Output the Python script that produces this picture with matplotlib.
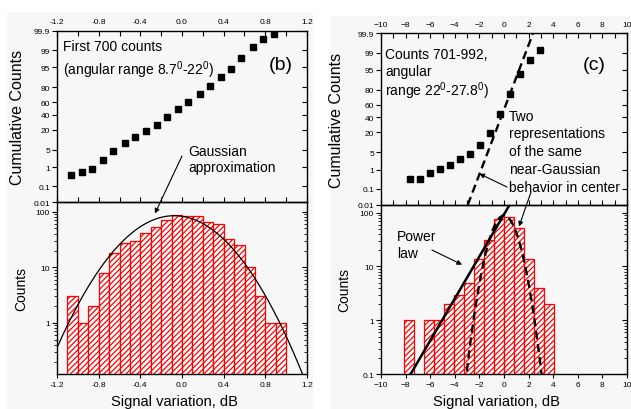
# plot.py - cumulative counts (probability scale) + log histograms, panels (b) and (c)

import numpy as np
import matplotlib
matplotlib.use("Agg")
import matplotlib.pyplot as plt
from matplotlib.patches import Rectangle
from matplotlib.ticker import MultipleLocator, LogLocator, NullFormatter, NullLocator
from statistics import NormalDist

plt.rcParams['font.family'] = ['Liberation Sans', 'DejaVu Sans']
plt.rcParams['mathtext.fontset'] = 'custom'
plt.rcParams['mathtext.rm'] = 'Liberation Sans'
plt.rcParams['mathtext.it'] = 'Liberation Sans:italic'
plt.rcParams['hatch.linewidth'] = 0.9

# ---- panel (b): first 700 counts ----
b_cum_x   = [-1.07, -0.96, -0.86, -0.76, -0.66, -0.55, -0.45, -0.35, -0.24, -0.14,
             -0.04, 0.06, 0.17, 0.27, 0.37, 0.47, 0.57, 0.68, 0.78, 0.88]
b_cum_pct = [0.43, 0.56, 0.84, 1.97, 4.57, 8.5, 12.6, 18.6, 26.1, 36.4,
             48.8, 59.9, 71.9, 81.2, 89.8, 94.3, 97.9, 99.29, 99.73, 99.86]
b_edges   = [-1.1, -1.0, -0.9, -0.8, -0.7, -0.6, -0.5, -0.4, -0.3, -0.2, -0.1,
             0.0, 0.1, 0.2, 0.3, 0.4, 0.5, 0.6, 0.7, 0.8, 0.9, 1.0]
b_counts  = [3, 1, 2, 8, 18, 27, 30, 42, 54, 71, 87, 83, 83, 66, 60, 33, 25, 10, 3, 1, 1]
# gaussian approximation (peak, centre, width in dB)
b_gauss_peak, b_gauss_mu, b_gauss_sigma = 85.0, -0.075, 0.34

# ---- panel (c): counts 701-992 ----
c_cum_x   = [-7.65, -6.83, -6.04, -5.22, -4.41, -3.59, -2.78, -1.96, -1.14, -0.33,
             0.49, 1.31, 2.12, 2.94]
c_cum_pct = [0.35, 0.35, 0.69, 1.07, 1.66, 2.76, 4.53, 9.1, 19.6, 45.9,
             74.7, 92.8, 97.8, 99.24]
c_edges   = [-8.15, -7.335, -6.52, -5.705, -4.89, -4.075, -3.26, -2.445, -1.63,
             -0.815, 0.0, 0.815, 1.63, 2.445, 3.26, 4.075]
c_counts  = [1, 0, 1, 1, 2, 3, 5, 14, 31, 76, 84, 51, 14, 4, 2]
c_line_x   = [-2.94, 2.36]     # straight line on the probability plot
c_line_pct = [0.01, 99.9]
c_power_x  = [-7.6, 0.46]      # power-law line
c_power_y  = [0.1, 140.0]
c_gauss_peak, c_gauss_mu, c_gauss_sigma = 88.0, 0.0, 0.83

prob_ticks = [0.01, 0.1, 1, 5, 20, 40, 60, 80, 95, 99, 99.9]
prob_labels = ['0.01', '0.1', '1', '5', '20', '40', '60', '80', '95', '99', '99.9']

nd = NormalDist()


def _z(p):
    if not np.isfinite(p):
        return np.nan
    p = min(max(p / 100.0, 1e-9), 1 - 1e-9)
    return nd.inv_cdf(p)


def _p(z):
    if not np.isfinite(z):
        return np.nan
    return nd.cdf(z) * 100.0


probit = np.vectorize(_z, otypes=[float])
unprobit = np.vectorize(_p, otypes=[float])

W, H = 631, 410
fig = plt.figure(figsize=(W / 100, H / 100), dpi=100)


def box(x0, y0, x1, y1):
    return [x0 / W, 1 - y1 / H, (x1 - x0) / W, (y1 - y0) / H]


# light grey backgrounds of the two pasted panels
for (x0, y0, x1, y1) in [(7, 13, 313, 410), (330, 17, 631, 410)]:
    fig.add_artist(Rectangle((x0 / W, 1 - y1 / H), (x1 - x0) / W, (y1 - y0) / H,
                             transform=fig.transFigure, facecolor='#f7f7f7',
                             edgecolor='none', zorder=-10))

axb_top = fig.add_axes(box(57, 32, 307, 203))
axb_bot = fig.add_axes(box(57, 203, 307, 375))
axc_top = fig.add_axes(box(381, 34.3, 627, 205.7))
axc_bot = fig.add_axes(box(381, 205.7, 627, 375.3))


def style_common(ax):
    ax.set_facecolor('none')
    for s in ax.spines.values():
        s.set_linewidth(1.0)
    ax.tick_params(labelsize=6, width=0.8)


def right_ticks(ax, kind):
    tw = ax.twinx()
    tw.set_facecolor('none')
    if kind == 'prob':
        tw.set_yscale('function', functions=(probit, unprobit))
        tw.set_ylim(0.01, 99.9)
        tw.set_yticks(prob_ticks)
        tw.yaxis.set_minor_locator(NullLocator())
    else:
        tw.set_yscale('log')
        tw.set_ylim(ax.get_ylim())
        tw.yaxis.set_major_locator(LogLocator(base=10))
        tw.yaxis.set_minor_locator(LogLocator(base=10, subs=np.arange(2, 10)))
        tw.yaxis.set_minor_formatter(NullFormatter())
    tw.tick_params(axis='y', which='major', direction='in', length=3.5, width=0.8,
                   labelright=False)
    tw.tick_params(axis='y', which='minor', direction='in', length=2, width=0.6)
    for s in tw.spines.values():
        s.set_visible(False)
    return tw


def prob_panel(ax, xlim, major, minor, xs, ps):
    style_common(ax)
    ax.set_yscale('function', functions=(probit, unprobit))
    ax.set_ylim(0.01, 99.9)
    ax.set_yticks(prob_ticks, prob_labels)
    ax.yaxis.set_minor_locator(NullLocator())
    ax.set_xlim(*xlim)
    ax.xaxis.set_major_locator(MultipleLocator(major))
    ax.xaxis.set_minor_locator(MultipleLocator(minor))
    ax.tick_params(axis='x', which='both', direction='in', top=True, bottom=True,
                   labeltop=True, labelbottom=False, pad=4)
    ax.tick_params(axis='x', which='major', length=3.5)
    ax.tick_params(axis='x', which='minor', length=3.5, width=0.8)
    ax.tick_params(axis='y', direction='out', length=3.5, pad=1.5)
    ax.plot(xs, ps, 's', color='black', ms=4, zorder=3)
    ax.set_ylabel('Cumulative Counts', fontsize=11.5)
    right_ticks(ax, 'prob')


def hist_panel(ax, xlim, ylim, major, edges, counts):
    style_common(ax)
    ax.set_yscale('log')
    ax.set_xlim(*xlim)
    ax.set_ylim(*ylim)
    ax.xaxis.set_major_locator(MultipleLocator(major))
    edges = np.asarray(edges)
    counts = np.asarray(counts, dtype=float)
    keep = counts > 0
    ax.bar(edges[:-1][keep], counts[keep], width=np.diff(edges)[keep], align='edge',
           bottom=1e-3, facecolor='white', edgecolor='#ff0000', linewidth=0.9,
           hatch='//////', zorder=1)
    ax.tick_params(axis='x', direction='out', length=3, pad=2, top=False)
    ax.tick_params(axis='y', which='major', direction='out', length=3.5, pad=1.5)
    ax.tick_params(axis='y', which='minor', left=False)
    ax.set_xlabel('Signal variation, dB', fontsize=10.5)
    ax.set_ylabel('Counts', fontsize=10)
    right_ticks(ax, 'log')


# ---- panel (b) ----
prob_panel(axb_top, (-1.2, 1.2), 0.4, 0.2, b_cum_x, b_cum_pct)
axb_top.set_xticks(np.arange(-1.2, 1.21, 0.4),
                   ['-1.2', '-0.8', '-0.4', '0.0', '0.4', '0.8', '1.2'])
hist_panel(axb_bot, (-1.2, 1.2), (0.12, 150), 0.4, b_edges, b_counts)
axb_bot.set_xticks(np.arange(-1.2, 1.21, 0.4),
                   ['-1.2', '-0.8', '-0.4', '0.0', '0.4', '0.8', '1.2'])
axb_bot.set_yticks([1, 10, 100], ['1', '10', '100'])
xg = np.linspace(-1.2, 1.2, 400)
axb_bot.plot(xg, b_gauss_peak * np.exp(-(xg - b_gauss_mu) ** 2 / (2 * b_gauss_sigma ** 2)),
             color='black', lw=0.9, zorder=3)

# ---- panel (c) ----
prob_panel(axc_top, (-10, 10), 2, 1, c_cum_x, c_cum_pct)
axc_top.plot(c_line_x, c_line_pct, color='black', lw=1.7, dashes=(3.5, 2), zorder=2)
hist_panel(axc_bot, (-10, 10), (0.1, 140), 2, c_edges, c_counts)
axc_bot.set_yticks([0.1, 1, 10, 100], ['0.1', '1', '10', '100'])
axc_bot.plot(c_power_x, c_power_y, color='black', lw=1.8, zorder=3)
xc = np.linspace(-4, 4, 400)
axc_bot.plot(xc, c_gauss_peak * np.exp(-(xc - c_gauss_mu) ** 2 / (2 * c_gauss_sigma ** 2)),
             color='black', lw=1.7, dashes=(3.5, 2), zorder=3)

# label positions
axb_top.yaxis.set_label_coords(-0.128, 0.5)
axb_bot.yaxis.set_label_coords(-0.116, 0.5)
axc_top.yaxis.set_label_coords(-0.150, 0.5)
axc_bot.yaxis.set_label_coords(-0.122, 0.5)
axb_bot.xaxis.set_label_coords(0.468, -0.116)
axc_bot.xaxis.set_label_coords(0.470, -0.116)


def ftext(x, y, s, size=10, **kw):
    fig.text(x / W, 1 - y / H, s, fontsize=size, va='center', ha='left', **kw)


ftext(63, 47, 'First 700 counts')
ftext(63, 70, '(angular range 8.7$^0$-22$^0$)')
ftext(269, 65, '(b)', size=14)
ftext(188, 152, 'Gaussian')
ftext(188, 168, 'approximation')

ftext(385, 55, 'Counts 701-992,')
ftext(385, 72, 'angular')
ftext(385, 91, 'range 22$^0$-27.8$^0$)')
ftext(583, 65, '(c)', size=14)
for yy, line in zip([117, 134, 152, 170, 188],
                    ['Two', 'representations', 'of the same', 'near-Gaussian',
                     'behavior in center']):
    ftext(509, yy, line)
ftext(397, 237, 'Power')
ftext(397, 254, 'law')

arrow = dict(arrowstyle='-|>', lw=0.8, color='black', mutation_scale=7,
             shrinkA=0, shrinkB=0)
axb_bot.annotate('', xy=(-0.26, 93), xycoords='data', xytext=(182, H - 157),
                 textcoords='figure pixels', arrowprops=arrow, annotation_clip=False)
axc_top.annotate('', xy=(-2.0, 0.64), xycoords='data', xytext=(507, H - 188),
                 textcoords='figure pixels', arrowprops=arrow, annotation_clip=False)
axc_bot.annotate('', xy=(1.22, 55), xycoords='data', xytext=(531, H - 193),
                 textcoords='figure pixels', arrowprops=arrow, annotation_clip=False)
axc_bot.annotate('', xy=(-3.41, 10.8), xycoords='data', xytext=(432, H - 251),
                 textcoords='figure pixels', arrowprops=arrow, annotation_clip=False)

fig.savefig('out.png', dpi=100)
